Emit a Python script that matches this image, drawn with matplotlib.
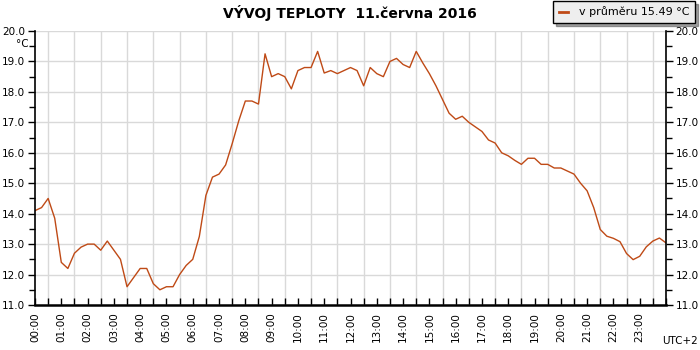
import matplotlib
matplotlib.use('Agg')
import matplotlib.pyplot as plt
import numpy as np

# 15-minute readings, 00:00 .. 24:00
times = [f'{h:02d}:{m:02d}' for h in range(24) for m in (0, 15, 30, 45)] + ['24:00']
temps = [
    14.1, 14.2, 14.5, 13.85, 12.4, 12.2, 12.7, 12.9,
    13.0, 13.0, 12.8, 13.1, 12.8, 12.5, 11.6, 11.9,
    12.2, 12.2, 11.7, 11.5, 11.6, 11.6, 12.0, 12.3,
    12.5, 13.25, 14.6, 15.2, 15.3, 15.6, 16.3, 17.05,
    17.7, 17.7, 17.6, 19.25, 18.5, 18.6, 18.5, 18.1,
    18.7, 18.8, 18.8, 19.33, 18.62, 18.7, 18.6, 18.7,
    18.8, 18.7, 18.2, 18.8, 18.6, 18.5, 19.0, 19.1,
    18.9, 18.8, 19.33, 18.95, 18.6, 18.2, 17.75, 17.3,
    17.1, 17.2, 17.0, 16.85, 16.7, 16.42, 16.32, 16.0,
    15.9, 15.75, 15.62, 15.82, 15.82, 15.62, 15.62, 15.5,
    15.5, 15.4, 15.3, 15.0, 14.75, 14.2, 13.48, 13.26,
    13.19, 13.08, 12.69, 12.49, 12.6, 12.91, 13.1, 13.2,
    13.04,
]
hour_labels = [f'{h:02d}:00' for h in range(24)]
title = 'VÝVOJ TEPLOTY  11.června 2016'
legend_label = 'v průměru 15.49 °C'

hours = [int(t[:2]) + int(t[3:]) / 60 for t in times]

fig = plt.figure(figsize=(7, 3.5), dpi=100)
ax = fig.add_axes([35 / 700, 1 - 305 / 350, 631 / 700, 274 / 350])

line_color = '#bf4a16'
ax.plot(hours, temps, color=line_color, lw=1.0, label=legend_label)

ax.set_xlim(0, 24)
ax.set_ylim(11, 20)

# grid
ax.set_xticks(np.arange(0, 24.01, 0.5), minor=True)
ax.set_xticks(range(24))
ax.set_xticklabels(hour_labels, rotation=90, fontsize=7.5)
ax.set_yticks(np.arange(11, 20.01, 1))
ax.set_yticks(np.arange(11.5, 20, 1), minor=True)
ax.set_yticklabels([f'{v:.1f}' for v in np.arange(11, 20.01, 1)], fontsize=7.5)
ax.grid(True, which='minor', axis='x', color='#d9d9d9', lw=1)
ax.grid(True, which='major', axis='y', color='#d9d9d9', lw=1)
ax.set_axisbelow(True)

ax.tick_params(axis='x', which='both', direction='in', length=5, width=1, pad=5)
ax.tick_params(axis='y', which='major', direction='out', length=5, width=1,
               right=True, labelright=True, pad=2)
ax.tick_params(axis='y', which='minor', direction='out', length=4, width=1,
               right=True)

ax.spines['top'].set_visible(False)
for s in ('left', 'right'):
    ax.spines[s].set_linewidth(1.2)
ax.spines['bottom'].set_linewidth(1.8)

fig.text(22 / 700, 1 - 44 / 350, '°C', fontsize=7.5, ha='center', va='center')
fig.text(698 / 700, 1 - 346 / 350, 'UTC+2', fontsize=7.5, ha='right', va='bottom')
fig.text(350 / 700, 1 - 13 / 350, title, fontsize=10, fontweight='bold',
         ha='center', va='center')

leg = fig.legend(loc='upper right', bbox_to_anchor=(695 / 700, 1 - 1 / 350),
                 fontsize=8, frameon=True, fancybox=False, shadow=True,
                 handlelength=0.8, borderpad=0.5, handletextpad=1.0,
                 borderaxespad=0)
leg.get_frame().set_facecolor('#eeeeee')
leg.get_frame().set_edgecolor('black')
leg.get_frame().set_linewidth(1)
leg.get_frame().set_alpha(1)
for h in leg.get_lines():
    h.set_linewidth(2)

fig.savefig('out.png', dpi=100)
